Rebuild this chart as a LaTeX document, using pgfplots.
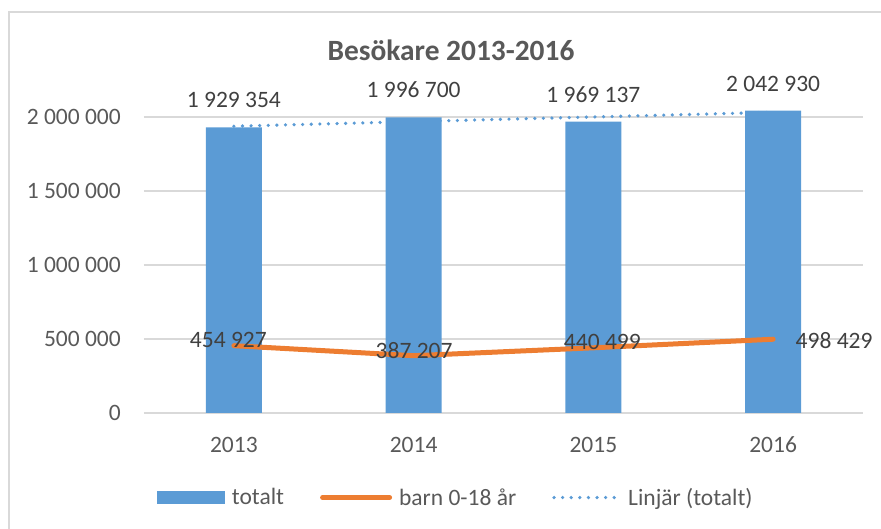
\documentclass[border=0pt]{standalone}
\usepackage{pgfplots}
\pgfplotsset{compat=1.18}
\usepackage{fontspec}
\setmainfont{Carlito}
\definecolor{barblue}{HTML}{5B9BD5}
\definecolor{lineor}{HTML}{ED7D31}
\definecolor{txt}{HTML}{595959}
\definecolor{lbl}{HTML}{404040}
\definecolor{gridc}{HTML}{D9D9D9}
\newcommand{\tf}{\fontsize{23.5}{26}\selectfont}
\begin{document}
\begin{tikzpicture}[x=1pt,y=1pt]
\useasboundingbox (0,0) rectangle (881,529);
\draw[gridc, line width=1.3pt] (9,517) rectangle (900,-20);
\node[font=\fontsize{29.4}{32}\selectfont\bfseries, text=txt] at (451,479) {Besökare 2013-2016};
\begin{axis}[
  at={(144pt,116pt)}, anchor=south west,
  scale only axis, width=719pt, height=310.8pt,
  xmin=-0.5, xmax=3.5, ymin=0, ymax=2100000,
  scaled y ticks=false,
  axis line style={draw=none},
  tick style={draw=none},
  xtick={0,1,2,3}, xticklabels={2013,2014,2015,2016},
  ytick={0,500000,1000000,1500000,2000000},
  yticklabels={0,500 000,1 000 000,1 500 000,2 000 000},
  ymajorgrids, grid style={gridc, line width=1.3pt},
  ticklabel style={font=\tf, text=txt, inner sep=0pt},
  xticklabel style={anchor=base, yshift=-39.5pt},
  yticklabel style={anchor=east, xshift=-23pt},
  clip=false,
  legend columns=3,
  legend style={draw=none, fill=none, at={(0.018,-0.272)}, anchor=west,
    inner sep=0pt, outer sep=0pt, font=\tf, text=txt,
    nodes={inner sep=0pt},
    /tikz/every odd column/.append style={column sep=7pt},
    /tikz/every even column/.append style={column sep=36pt}},
]
\addplot[ybar, bar width=56pt, fill=barblue, draw=none,
  point meta=explicit symbolic, nodes near coords,
  nodes near coords style={anchor=base, yshift=19.5pt, inner sep=0pt, font=\tf, text=lbl},
  legend image code/.code={\fill[barblue] (0pt,-6.5pt) rectangle (68pt,6.5pt);}]
  coordinates {(0,1929354) [1 929 354] (1,1996700) [1 996 700] (2,1969137) [1 969 137] (3,2042930) [2 042 930]};
\addlegendentry{totalt}
\addplot[lineor, line width=5pt, line join=round, line cap=round, mark=none,
  legend image code/.code={\draw[lineor, line width=5pt, line cap=round] (2.5pt,0pt) -- (69.5pt,0pt);}]
  coordinates {(0,454927) (1,387207) (2,440499) (3,498429)};
\addlegendentry{barn 0-18 år}
\addplot[barblue, line width=3.6pt, line cap=round, dash pattern=on 0pt off 8.6pt, mark=none,
  legend image code/.code={\draw[barblue, line width=3.6pt, line cap=round, dash pattern=on 0pt off 8.6pt] (1.8pt,0pt) -- (67.2pt,0pt);}]
  coordinates {(0,1937555) (3,2031505)};
\addlegendentry{Linjär (totalt)}
\addplot[forget plot, draw=none, mark=none, point meta=explicit symbolic, nodes near coords,
  nodes near coords style={anchor=center, xshift=-5.5pt, yshift=6pt, inner sep=0pt, font=\tf, text=lbl}]
  coordinates {(0,454927) [454 927]};
\addplot[forget plot, draw=none, mark=none, point meta=explicit symbolic, nodes near coords,
  nodes near coords style={anchor=center, xshift=0.5pt, yshift=5pt, inner sep=0pt, font=\tf, text=lbl}]
  coordinates {(1,387207) [387 207]};
\addplot[forget plot, draw=none, mark=none, point meta=explicit symbolic, nodes near coords,
  nodes near coords style={anchor=center, xshift=9pt, yshift=6pt, inner sep=0pt, font=\tf, text=lbl}]
  coordinates {(2,440499) [440 499]};
\addplot[forget plot, draw=none, mark=none, point meta=explicit symbolic, nodes near coords,
  nodes near coords style={anchor=center, xshift=61pt, yshift=-1pt, inner sep=0pt, font=\tf, text=lbl}]
  coordinates {(3,498429) [498 429]};
\end{axis}
\end{tikzpicture}
\end{document}
